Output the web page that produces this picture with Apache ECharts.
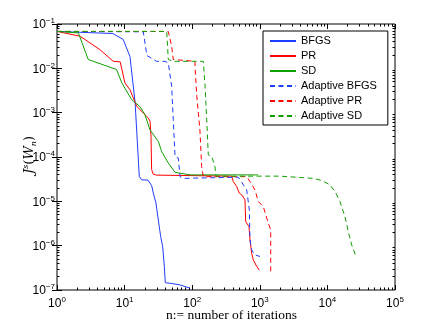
<!DOCTYPE html>
<html>
<head>
<meta charset="utf-8">
<script src="https://cdn.jsdelivr.net/npm/echarts@6/dist/echarts.min.js"></script>
<style>
  html, body { margin: 0; padding: 0; background: #fff; }
  #chart { width: 436px; height: 327px; }
</style>
</head>
<body>
<div id="chart"></div>
<script>
// (x = iterations, y = J^s(W_n))
const bfgsX = [1, 6.7, 9.5, 12, 14.3, 16.5, 17.9, 22.2, 25.2, 26.6, 29.1, 31.5, 34.2, 36.6, 38.7, 40, 47, 66, 93];
const bfgsY = [0.068, 0.061, 0.045, 0.0185, 0.0017, 3.6e-5, 3.06e-5, 3.0e-5, 2.24e-5, 1.53e-5, 9.2e-6, 3.8e-6, 1.6e-6, 9.5e-7, 3.4e-7, 1.46e-7, 1.42e-7, 1.3e-7, 1.1e-7];

const prX = [1, 2.2, 4.3, 6.8, 8.6, 10.1, 12, 15.1, 18.9, 22.4, 23.8, 24.6, 25.1, 26.5, 29.7, 384, 405, 455, 497, 540, 604, 618, 692, 716, 759, 801, 900, 984];
const prY = [0.068, 0.053, 0.0265, 0.0144, 0.014, 0.0047, 0.0033, 0.0014, 9.8e-4, 7.6e-4, 6.4e-4, 2.9e-4, 5.2e-5, 4.1e-5, 3.9e-5, 3.7e-5, 2.8e-5, 2.16e-5, 1.53e-5, 1.4e-5, 1.08e-5, 3.5e-6, 2.7e-6, 1.35e-6, 6.7e-7, 4.8e-7, 3.4e-7, 2.8e-7];

const sdX = [1, 2.07, 2.9, 7.6, 9.1, 12.7, 16.9, 20, 23.7, 31.5, 35.4, 44.3, 55.7, 93, 940];
const sdY = [0.068, 0.063, 0.0158, 0.0094, 0.0047, 0.00197, 0.00137, 9.0e-4, 4.1e-4, 2.25e-4, 1.33e-4, 7.3e-5, 4.5e-5, 3.95e-5, 3.95e-5];

const aBfgsX = [1, 18.9, 21.4, 29.7, 39.6, 44.3, 49.7, 52.5, 55.7, 62.3, 66, 73.8, 481, 640, 700, 716, 759, 849, 1007];
const aBfgsY = [0.068, 0.0667, 0.0194, 0.0144, 0.0144, 0.0133, 0.0039, 6.9e-4, 1.03e-4, 9.5e-5, 3.6e-5, 3.3e-5, 3.5e-5, 1.82e-5, 6.4e-6, 1.35e-6, 8e-7, 6.2e-7, 5.7e-7];

const aPrX = [1, 44.3, 49.7, 52.5, 110, 110, 117, 130, 138, 146, 640, 716, 849, 950, 1127, 1337, 1449, 1449];
const aPrY = [0.068, 0.068, 0.0315, 0.0158, 0.0144, 0.0111, 0.00233, 4.1e-4, 6.1e-5, 3.6e-5, 3.6e-5, 2.8e-5, 1.8e-5, 9.9e-6, 7.6e-6, 3.2e-6, 2.27e-6, 2.6e-7];

const aSdX = [1, 42, 44.3, 52.5, 146, 155, 164, 173, 194, 217, 225, 1990, 6180, 8240, 10920, 12940, 15350, 18200, 20370, 22870, 26490];
const aSdY = [0.068, 0.068, 0.0158, 0.0144, 0.0144, 0.0039, 6.9e-4, 1.12e-4, 1.03e-4, 6.1e-5, 3.7e-5, 3.7e-5, 3.3e-5, 2.95e-5, 2.36e-5, 1.67e-5, 9.9e-6, 4.5e-6, 2.08e-6, 1.04e-6, 5.7e-7];

const seriesNames = ['BFGS', 'PR', 'SD', 'Adaptive BFGS', 'Adaptive PR', 'Adaptive SD'];

// tick labels, as powers of ten
const xTickExps = [0, 1, 2, 3, 4, 5];
const yTickExps = [-7, -6, -5, -4, -3, -2, -1];

const BLUE = '#1f3dff', RED = '#ff0000', GREEN = '#10a000';

function pairs(xs, ys) {
  return xs.map((x, i) => [x, ys[i]]);
}

// minor tick positions in log space (2..9 within each decade)
function minorTicks(exps) {
  let out = [];
  for (let i = 0; i < exps.length - 1; i++) {
    for (let k = 2; k <= 9; k++) out.push(exps[i] + Math.log10(k));
  }
  return out;
}

const powRich = {
  b: { fontSize: 12, lineHeight: 14, verticalAlign: 'bottom', fontFamily: 'Liberation Sans', color: '#000' },
  s: { fontSize: 8, lineHeight: 8, verticalAlign: 'top', fontFamily: 'Liberation Sans', color: '#000' }
};
function powLabel(v) {
  let e = Math.round(v);
  return '{b|10}{s|' + (e < 0 ? '\u2212' + (-e) : e) + '}';
}

// decorative value axes running in log10 space, used only for ticks/labels
function tickAxis(dim, pos, lo, hi, values, len, labels) {
  let ax = {
    type: 'value', gridIndex: 0, position: pos, min: lo, max: hi,
    axisLine: { show: false },
    splitLine: { show: false },
    axisTick: { show: true, inside: true, length: len, customValues: values, lineStyle: { color: '#000', width: 1 } },
    axisLabel: { show: false }
  };
  if (labels) {
    ax.axisLabel = {
      show: true, customValues: values, formatter: powLabel, rich: powRich,
      margin: dim === 'x' ? 6 : 2
    };
  }
  return ax;
}

const chart = echarts.init(document.getElementById('chart'), null, { renderer: 'canvas' });

function line(name, data, color, dashed) {
  return {
    name: name, type: 'line', data: data, xAxisIndex: 0, yAxisIndex: 0,
    showSymbol: false, symbol: 'none', animation: false,
    lineStyle: { color: color, width: 1, type: dashed ? [5, 3.5] : 'solid' },
    itemStyle: { color: color }
  };
}

const option = {
  backgroundColor: '#fff',
  animation: false,
  grid: {
    left: 57, right: 41, top: 24, bottom: 37,
    show: true, borderColor: '#000', borderWidth: 1, backgroundColor: 'transparent'
  },
  xAxis: [
    { type: 'log', logBase: 10, min: 1, max: 1e5, show: false, gridIndex: 0 },
    tickAxis('x', 'bottom', 0, 5, xTickExps, 5, true),
    tickAxis('x', 'bottom', 0, 5, minorTicks(xTickExps), 2.5, false),
    tickAxis('x', 'top', 0, 5, xTickExps, 5, false),
    tickAxis('x', 'top', 0, 5, minorTicks(xTickExps), 2.5, false)
  ],
  yAxis: [
    { type: 'log', logBase: 10, min: 1e-7, max: 1e-1, show: false, gridIndex: 0 },
    tickAxis('y', 'left', -7, -1, yTickExps, 5, true),
    tickAxis('y', 'left', -7, -1, minorTicks(yTickExps), 2.5, false),
    tickAxis('y', 'right', -7, -1, yTickExps, 5, false),
    tickAxis('y', 'right', -7, -1, minorTicks(yTickExps), 2.5, false)
  ],
  legend: {
    orient: 'vertical',
    left: 263, top: 31,
    padding: [4, 11, 3, 6],
    itemWidth: 26, itemHeight: 12, itemGap: 3,
    backgroundColor: '#fff',
    borderColor: '#000', borderWidth: 1, borderRadius: 0,
    itemStyle: { opacity: 0 },
    textStyle: { fontSize: 11, lineHeight: 12, fontFamily: 'Liberation Sans', color: '#000' },
    data: seriesNames
  },
  series: [
    line(seriesNames[0], pairs(bfgsX, bfgsY), BLUE, false),
    line(seriesNames[1], pairs(prX, prY), RED, false),
    line(seriesNames[2], pairs(sdX, sdY), GREEN, false),
    line(seriesNames[3], pairs(aBfgsX, aBfgsY), BLUE, true),
    line(seriesNames[4], pairs(aPrX, aPrY), RED, true),
    line(seriesNames[5], pairs(aSdX, aSdY), GREEN, true)
  ],
  graphic: [
    {
      type: 'text', left: 166, top: 308,
      style: { text: 'n:= number of iterations', fontSize: 13.5, fontFamily: 'Liberation Serif', fill: '#000' }
    },
    {
      type: 'text', x: 30, y: 155, rotation: Math.PI / 2,
      style: {
        text: '{j|J}{s|s}{p|(}{j|W}{n|n}{p|)}',
        align: 'center', verticalAlign: 'middle',
        rich: {
          j: { fontSize: 13, fontStyle: 'italic', fontFamily: 'DejaVu Serif', lineHeight: 16, verticalAlign: 'middle', fill: '#000' },
          s: { fontSize: 8, fontStyle: 'italic', fontFamily: 'DejaVu Serif', lineHeight: 16, verticalAlign: 'middle', padding: [0, 0, 8, 0], fill: '#000' },
          n: { fontSize: 8, fontStyle: 'italic', fontFamily: 'DejaVu Serif', lineHeight: 16, verticalAlign: 'middle', padding: [8, 0, 0, 0], fill: '#000' },
          p: { fontSize: 13, fontFamily: 'DejaVu Serif', lineHeight: 16, verticalAlign: 'middle', fill: '#000' }
        }
      }
    }
  ]
};

chart.setOption(option);
</script>
</body>
</html>
